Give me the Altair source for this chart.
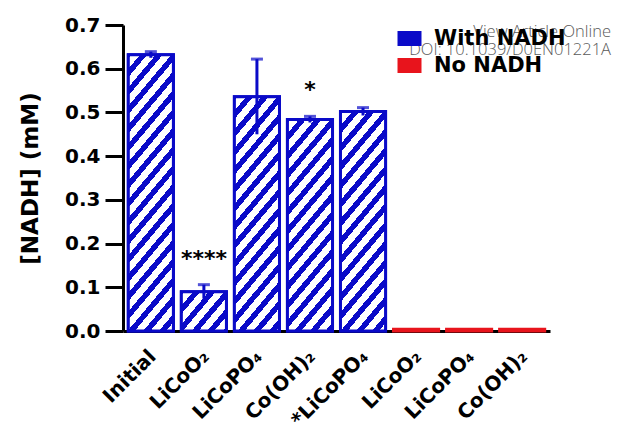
import math
import altair as alt
import pandas as pd

# ---------------- data ----------------
names = ["Initial", "LiCoO₂", "LiCoPO₄", "Co(OH)₂", "*LiCoPO₄", "LiCoO₂", "LiCoPO₄", "Co(OH)₂"]
groups = ["With NADH"] * 5 + ["No NADH"] * 3
means = [0.632, 0.090, 0.536, 0.484, 0.502, 0.004, 0.004, 0.004]
errs = [0.007, 0.016, 0.086, 0.007, 0.009, 0.0, 0.0, 0.0]
stars = ["", "****", "", "*", "", "", "", ""]
y_ticks = [0.0, 0.1, 0.2, 0.3, 0.4, 0.5, 0.6, 0.7]
legend_order = ["With NADH", "No NADH"]
watermark = ["View Article Online", "DOI: 10.1039/D0EN01221A"]

# ---------------- style ----------------
BLUE = "#0a0ac8"
RED = "#e8141c"
W, H = 427, 306
PI, PO = 0.15, 0.10
YMAX = 0.7
FONT = "DejaVu Sans"

df = pd.DataFrame({"id": list(range(len(names))), "name": names, "group": groups,
                   "mean": means, "err": errs, "star": stars})
df["lo"] = df["mean"] - df["err"]
df["hi"] = df["mean"] + df["err"]

step = W / (len(names) - PI + 2 * PO)
bw = step * (1 - PI)


def hatch(h, w=bw, spacing=12.0, frac=0.45, theta_deg=50.0, phase=-3.0):
    """Diagonal blue/white stripes as a hard-stop linear gradient (bbox units)."""
    th = math.radians(theta_deg)
    sn, cs = math.sin(th), math.cos(th)
    L = w * w * sn * sn + h * h * cs * cs
    smax = w * sn + h * cs
    gx = smax * w * sn / L
    gy = smax * h * cs / L
    stops = []
    j = 0
    while True:
        s0 = j * spacing + phase
        s1 = s0 + frac * spacing
        s2 = s0 + spacing
        if s0 > smax:
            break
        c = [min(max(v / smax, 0.0), 1.0) for v in (s0, s1, s2)]
        stops += [(c[0], BLUE), (c[1], BLUE), (c[1], "white"), (c[2], "white")]
        j += 1
    return alt.Gradient(gradient="linear", x1=0, y1=0, x2=gx, y2=gy,
                        stops=[alt.GradientStop(offset=o, color=col) for o, col in stops])


label_arr = "[" + ",".join("'" + n + "'" for n in names) + "]"

x = alt.X("id:O",
          scale=alt.Scale(paddingInner=PI, paddingOuter=PO),
          axis=alt.Axis(title=None, labelExpr=label_arr + "[datum.value]",
                        labelAngle=-45, labelAlign="right", labelBaseline="top",
                        labelPadding=15, labelOffset=-5, ticks=False, domainColor="black",
                        domainWidth=3, labelFont=FONT, labelFontWeight="bold", labelFontSize=20,
                        labelColor="black"))
y_axis = alt.Axis(title="[NADH] (mM)", values=y_ticks, format=".1f", tickSize=18, tickWidth=3,
                  tickColor="black", domainColor="black", domainWidth=3, grid=False,
                  labelFont=FONT, labelFontWeight="bold", labelFontSize=20, labelColor="black",
                  labelPadding=5, titleFont=FONT, titleFontWeight="bold", titleFontSize=23,
                  titleColor="black", titlePadding=22)
y = alt.Y("mean:Q", scale=alt.Scale(domain=[0, YMAX], nice=False), axis=y_axis)

color_scale = alt.Scale(domain=legend_order, range=[BLUE, RED])

base = alt.Chart(df).mark_bar(strokeWidth=3).encode(
    x=x, y=y,
    fill=alt.Fill("group:N", scale=color_scale,
                  legend=alt.Legend(title=None, orient="none", legendX=276, legendY=3,
                                    symbolType="M-1.2,-0.75L1.2,-0.75L1.2,0.75L-1.2,0.75Z",
                                    symbolSize=400, symbolStrokeWidth=0,
                                    labelFont=FONT, labelFontWeight="bold", labelFontSize=21,
                                    labelColor="black", labelOffset=14, rowPadding=5)),
    stroke=alt.Stroke("group:N", scale=color_scale, legend=None),
)

hatched = []
for i, g in enumerate(groups):
    if g != "With NADH":
        continue
    h = means[i] / YMAX * H
    hatched.append(
        alt.Chart(df).transform_filter(f"datum.id == {i}")
        .mark_bar(fill=hatch(h), stroke=BLUE, strokeWidth=3)
        .encode(x=x, y=y)
    )

rules = alt.Chart(df).transform_filter("datum.err > 0").mark_rule(
    color=BLUE, strokeWidth=3).encode(x=x, y="lo:Q", y2="hi:Q")
caps = alt.Chart(df).transform_filter("datum.err > 0").mark_tick(
    color=BLUE, thickness=3, size=12, orient="horizontal").encode(x=x, y="hi:Q")
star_text = alt.Chart(df).transform_filter("datum.star != ''").mark_text(
    font=FONT, fontWeight="bold", fontSize=22, baseline="alphabetic", dy=-19, color="black"
).encode(x=x, y="hi:Q", text="star:N")

wm1 = alt.Chart(pd.DataFrame({"t": [watermark[0]]})).mark_text(
    font="Open Sans", fontSize=16.5, fontWeight=300, color="#5a5a5a", align="right",
    baseline="alphabetic").encode(x=alt.value(488), y=alt.value(12), text="t:N")
wm2 = alt.Chart(pd.DataFrame({"t": [watermark[1]]})).mark_text(
    font="Open Sans", fontSize=16.5, fontWeight=300, color="#5a5a5a", align="right",
    baseline="alphabetic").encode(x=alt.value(488), y=alt.value(30), text="t:N")

chart = alt.layer(base, *hatched, rules, caps, star_text, wm1, wm2).properties(
    width=W, height=H,
    autosize=alt.AutoSizeParams(type="none"),
    padding={"left": 115, "top": 17, "right": 63, "bottom": 100},
    background="white",
).configure_view(stroke=None)

chart.save("out.html", embed_options={"renderer": "svg", "actions": False})
